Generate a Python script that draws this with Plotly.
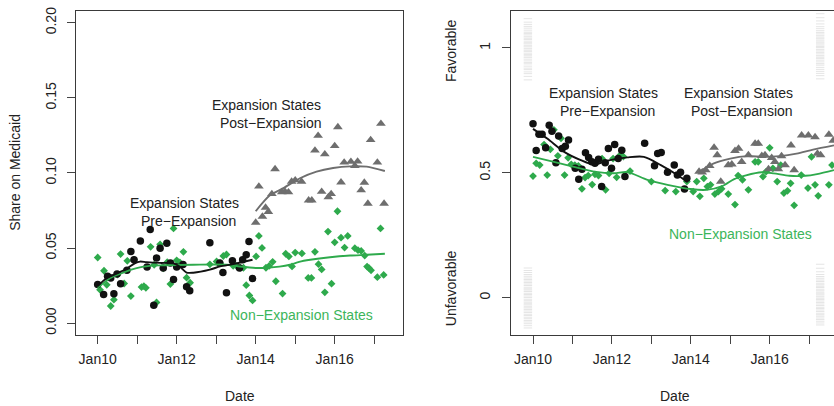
import plotly.graph_objects as go

# ---------------- Left panel: Share on Medicaid ----------------
pre_x = [2010.00, 2010.15, 2010.25, 2010.33, 2010.41, 2010.49, 2010.58, 2010.74, 2010.84, 2010.92,
         2011.08, 2011.25, 2011.33, 2011.42, 2011.49, 2011.58, 2011.66, 2011.75, 2011.84, 2011.92,
         2012.00, 2012.16, 2012.25, 2012.33, 2012.84, 2013.09, 2013.17, 2013.26, 2013.41, 2013.59,
         2013.67, 2013.76, 2013.83, 2013.92]
pre_y = [0.0257, 0.0191, 0.0312, 0.0301, 0.0196, 0.0327, 0.0262, 0.0352, 0.0477, 0.0422,
         0.0547, 0.0374, 0.0624, 0.0119, 0.0433, 0.0499, 0.0367, 0.0532, 0.0400, 0.0290,
         0.0374, 0.0390, 0.0242, 0.0215, 0.0536, 0.0400, 0.0338, 0.0202, 0.0415, 0.0367,
         0.0422, 0.0455, 0.0543, 0.0297]

post_x = [2014.00, 2014.08, 2014.17, 2014.25, 2014.32, 2014.41, 2014.49, 2014.66, 2014.74, 2014.83,
          2014.91, 2015.00, 2015.16, 2015.34, 2015.42, 2015.50, 2015.58, 2015.67, 2015.75, 2015.84,
          2015.91, 2016.00, 2016.08, 2016.16, 2016.24, 2016.41, 2016.51, 2016.58, 2016.67, 2016.75,
          2016.84, 2016.91, 2017.08, 2017.17, 2017.25]
post_y = [0.0670, 0.0910, 0.0710, 0.0770, 0.0741, 0.0860, 0.1026, 0.0873, 0.0877, 0.0872,
          0.0943, 0.0952, 0.0943, 0.0818, 0.0818, 0.1150, 0.1248, 0.0875, 0.1125, 0.0840,
          0.0860, 0.1180, 0.1306, 0.0938, 0.1070, 0.1075, 0.1048, 0.1077, 0.0885, 0.0936,
          0.0796, 0.1220, 0.1070, 0.1328, 0.0796]

non_x = [2010.00, 2010.06, 2010.16, 2010.23, 2010.33, 2010.41, 2010.50, 2010.58, 2010.67, 2010.75,
         2010.84, 2010.92, 2011.11, 2011.17, 2011.22, 2011.34, 2011.43, 2011.49, 2011.58, 2011.66,
         2011.76, 2011.84, 2011.92, 2012.00, 2012.08, 2012.17, 2012.25, 2012.34, 2012.84, 2013.01,
         2013.10, 2013.18, 2013.26, 2013.43, 2013.51, 2013.61, 2013.69, 2013.76, 2013.84, 2013.92,
         2014.01, 2014.08, 2014.16, 2014.26, 2014.34, 2014.43, 2014.51, 2014.68, 2014.76, 2014.84,
         2014.92, 2015.00, 2015.17, 2015.33, 2015.41, 2015.50, 2015.59, 2015.67, 2015.75, 2015.83,
         2015.92, 2016.00, 2016.07, 2016.16, 2016.25, 2016.33, 2016.51, 2016.59, 2016.67, 2016.76,
         2016.82, 2016.87, 2016.92, 2017.08, 2017.16, 2017.24]
non_y = [0.0437, 0.0222, 0.0349, 0.0255, 0.0114, 0.0156, 0.0323, 0.0460, 0.0264, 0.0415,
         0.0180, 0.0422, 0.0240, 0.0246, 0.0235, 0.0508, 0.0389, 0.0138, 0.0525, 0.0365,
         0.0406, 0.0260, 0.0631, 0.0418, 0.0405, 0.0475, 0.0303, 0.0269, 0.0392, 0.0411,
         0.0400, 0.0447, 0.0457, 0.0382, 0.0382, 0.0369, 0.0369, 0.0253, 0.0184, 0.0151,
         0.0444, 0.0581, 0.0501, 0.0369, 0.0381, 0.0408, 0.0279, 0.0197, 0.0462, 0.0444,
         0.0378, 0.0470, 0.0464, 0.0301, 0.0301, 0.0475, 0.0393, 0.0358, 0.0205, 0.0610,
         0.0263, 0.0538, 0.0745, 0.0569, 0.0503, 0.0581, 0.0499, 0.0486, 0.0481, 0.0450,
         0.0377, 0.0366, 0.0352, 0.0306, 0.0631, 0.0321]

# smoothed trend lines
pre_fit_x = [2010.00, 2010.23, 2010.48, 2010.73, 2010.95, 2011.07, 2011.24, 2011.58, 2011.92, 2012.08,
             2012.25, 2012.42, 2012.84, 2013.10, 2013.43, 2013.92]
pre_fit_y = [0.0246, 0.0301, 0.0330, 0.0362, 0.0400, 0.0410, 0.0406, 0.0401, 0.0399, 0.0375,
             0.0337, 0.0336, 0.0356, 0.0378, 0.0393, 0.0422]
post_fit_x = [2014.00, 2014.36, 2014.70, 2015.12, 2015.54, 2015.96, 2016.39, 2016.81, 2017.27]
post_fit_y = [0.0745, 0.0851, 0.0899, 0.0965, 0.1009, 0.1033, 0.1044, 0.1042, 0.1013]
non_fit_x = [2010.00, 2010.31, 2010.73, 2011.16, 2011.58, 2012.42, 2013.27, 2013.60, 2014.00, 2014.30,
             2014.60, 2014.87, 2015.10, 2015.38, 2015.88, 2016.39, 2016.81, 2017.27]
non_fit_y = [0.0235, 0.0299, 0.0345, 0.0376, 0.0385, 0.0389, 0.0389, 0.0377, 0.0367, 0.0369,
             0.0376, 0.0389, 0.0408, 0.0422, 0.0439, 0.0450, 0.0455, 0.0462]

# ---------------- Right panel: Favorable / Unfavorable ----------------
rpre_x = [2010.00, 2010.08, 2010.15, 2010.23, 2010.32, 2010.41, 2010.48, 2010.58, 2010.65, 2010.74,
          2010.82, 2010.90, 2011.07, 2011.16, 2011.24, 2011.33, 2011.41, 2011.49, 2011.57, 2011.66,
          2011.74, 2011.83, 2011.91, 2011.99, 2012.07, 2012.16, 2012.25, 2012.33, 2012.83, 2013.08,
          2013.16, 2013.25, 2013.41, 2013.58, 2013.66, 2013.74, 2013.84, 2013.90]
rpre_y = [0.696, 0.589, 0.654, 0.654, 0.600, 0.690, 0.666, 0.540, 0.647, 0.597,
          0.606, 0.631, 0.518, 0.474, 0.514, 0.580, 0.561, 0.544, 0.538, 0.554,
          0.445, 0.540, 0.597, 0.518, 0.613, 0.557, 0.590, 0.485, 0.618, 0.528,
          0.577, 0.581, 0.502, 0.531, 0.491, 0.502, 0.435, 0.478]

rpost_x = [2014.21, 2014.29, 2014.38, 2014.48, 2014.59, 2014.67, 2014.76, 2014.95, 2015.04, 2015.12,
           2015.21, 2015.29, 2015.46, 2015.63, 2015.71, 2015.80, 2015.88, 2015.97, 2016.05, 2016.13,
           2016.22, 2016.30, 2016.39, 2016.54, 2016.62, 2016.81, 2016.98, 2017.15, 2017.21, 2017.29,
           2017.50, 2017.61]
rpost_y = [0.505, 0.502, 0.511, 0.528, 0.601, 0.571, 0.465, 0.531, 0.534, 0.588,
           0.597, 0.544, 0.571, 0.617, 0.617, 0.568, 0.571, 0.515, 0.560, 0.544,
           0.515, 0.567, 0.531, 0.610, 0.511, 0.650, 0.650, 0.643, 0.577, 0.571,
           0.653, 0.629]

rnon_x = [2010.00, 2010.08, 2010.17, 2010.28, 2010.36, 2010.44, 2010.53, 2010.63, 2010.71, 2010.80,
          2010.89, 2010.97, 2011.06, 2011.15, 2011.24, 2011.32, 2011.40, 2011.50, 2011.57, 2011.66,
          2011.75, 2011.84, 2011.93, 2012.03, 2012.12, 2012.21, 2012.29, 2012.46, 2013.00, 2013.35,
          2013.62, 2013.90, 2014.06, 2014.15, 2014.23, 2014.33, 2014.42, 2014.50, 2014.61, 2014.70,
          2014.78, 2014.95, 2015.12, 2015.20, 2015.31, 2015.46, 2015.63, 2015.71, 2015.83, 2015.91,
          2016.00, 2016.08, 2016.19, 2016.28, 2016.36, 2016.45, 2016.53, 2016.62, 2016.80, 2016.97,
          2017.06, 2017.15, 2017.23, 2017.50, 2017.58]
rnon_y = [0.487, 0.538, 0.531, 0.613, 0.491, 0.594, 0.672, 0.568, 0.638, 0.491,
          0.560, 0.534, 0.531, 0.528, 0.436, 0.481, 0.489, 0.453, 0.494, 0.489,
          0.557, 0.432, 0.498, 0.557, 0.482, 0.571, 0.565, 0.507, 0.465, 0.429,
          0.425, 0.465, 0.425, 0.465, 0.406, 0.478, 0.445, 0.452, 0.415, 0.425,
          0.436, 0.415, 0.373, 0.489, 0.472, 0.432, 0.544, 0.544, 0.485, 0.505,
          0.600, 0.518, 0.465, 0.531, 0.419, 0.428, 0.458, 0.370, 0.491, 0.439,
          0.564, 0.452, 0.408, 0.452, 0.531]

rpre_fit_x = [2010.00, 2010.36, 2010.79, 2011.21, 2011.55, 2011.89, 2012.40, 2012.81, 2013.24, 2013.66, 2013.92]
rpre_fit_y = [0.676, 0.637, 0.584, 0.551, 0.533, 0.549, 0.562, 0.564, 0.531, 0.491, 0.462]
rpost_fit_x = [2014.23, 2014.57, 2015.00, 2015.42, 2015.84, 2016.26, 2016.68, 2017.10, 2017.63]
rpost_fit_y = [0.505, 0.537, 0.557, 0.567, 0.564, 0.567, 0.577, 0.593, 0.610]
rnon_fit_x = [2010.00, 2010.53, 2011.04, 2011.55, 2012.05, 2012.39, 2012.90, 2013.41, 2014.00, 2014.40,
              2014.80, 2015.10, 2015.40, 2015.80, 2016.10, 2016.50, 2016.90, 2017.20, 2017.63]
rnon_fit_y = [0.564, 0.544, 0.524, 0.505, 0.498, 0.503, 0.472, 0.452, 0.435, 0.432,
              0.447, 0.475, 0.490, 0.502, 0.498, 0.488, 0.488, 0.495, 0.511]

# raw (jittered) responses at the first and last survey waves
rug_first_x = 2009.87
rug_last_x = 2017.28
rug_first_fav = [0.872, 0.886, 0.897, 0.904, 0.913, 0.919, 0.927, 0.936, 0.941, 0.948, 0.955, 0.962,
                 0.968, 0.973, 0.979, 0.986, 0.991, 0.997, 1.004, 1.009, 1.016, 1.021, 1.027, 1.034,
                 1.039, 1.045, 1.052, 1.058, 1.063, 1.071, 1.079, 1.086, 1.094, 1.103, 1.117]
rug_first_unf = [-0.121, -0.112, -0.104, -0.097, -0.091, -0.084, -0.078, -0.071, -0.066, -0.059,
                 -0.053, -0.047, -0.041, -0.036, -0.029, -0.024, -0.018, -0.012, -0.006, 0.001,
                 0.007, 0.013, 0.018, 0.025, 0.031, 0.036, 0.042, 0.049, 0.055, 0.061, 0.067,
                 0.073, 0.079, 0.086, 0.093, 0.101, 0.109, 0.119]
rug_last_fav = [0.876, 0.889, 0.898, 0.906, 0.914, 0.922, 0.931, 0.937, 0.944, 0.951, 0.958, 0.963,
                0.969, 0.976, 0.982, 0.988, 0.994, 1.001, 1.006, 1.012, 1.019, 1.024, 1.031, 1.037,
                1.043, 1.049, 1.056, 1.062, 1.069, 1.077, 1.085, 1.096, 1.108, 1.121, 1.137]
rug_last_unf = [-0.109, -0.101, -0.094, -0.087, -0.081, -0.074, -0.068, -0.062, -0.055, -0.049,
                -0.043, -0.038, -0.031, -0.025, -0.019, -0.013, -0.007, -0.002, 0.004, 0.011,
                0.016, 0.022, 0.028, 0.034, 0.041, 0.046, 0.052, 0.058, 0.065, 0.071, 0.078,
                0.085, 0.093, 0.104, 0.118, 0.134]

year_ticks = [2010, 2011, 2012, 2013, 2014, 2015, 2016, 2017]
year_labels = ["Jan10", "", "Jan12", "", "Jan14", "", "Jan16", ""]
share_ticks = [0.0, 0.05, 0.10, 0.15, 0.20]
share_labels = ["0.00", "0.05", "0.10", "0.15", "0.20"]
fav_ticks = [0, 0.5, 1]
fav_labels = ["0", "0.5", "1"]

BLACK = "#111111"
GREY = "#6e6e6e"
GREEN = "#2eaa4c"
GREEN_TXT = "#3cb55a"
FONT = "Liberation Sans, Arial, Helvetica, sans-serif"
W, H = 834, 406

fig = go.Figure()

def pts(x, y, symbol, color, size, xa, ya):
    fig.add_trace(go.Scatter(x=x, y=y, mode="markers", xaxis=xa, yaxis=ya, showlegend=False,
                             marker=dict(symbol=symbol, color=color, size=size, line=dict(width=0))))

def line(x, y, color, xa, ya):
    fig.add_trace(go.Scatter(x=x, y=y, mode="lines", xaxis=xa, yaxis=ya, showlegend=False,
                             line=dict(color=color, width=1.9, shape="spline", smoothing=0.8)))

# left panel
pts(non_x, non_y, "diamond", GREEN, 6, "x", "y")
pts(pre_x, pre_y, "circle", BLACK, 7.5, "x", "y")
pts(post_x, post_y, "triangle-up", GREY, 8.5, "x", "y")
line(non_fit_x, non_fit_y, GREEN, "x", "y")
line(pre_fit_x, pre_fit_y, BLACK, "x", "y")
line(post_fit_x, post_fit_y, GREY, "x", "y")

# right panel rugs
for rx, vals in [(rug_first_x, rug_first_fav), (rug_first_x, rug_first_unf),
                 (rug_last_x, rug_last_fav), (rug_last_x, rug_last_unf)]:
    fig.add_trace(go.Scatter(x=[rx] * len(vals), y=vals, mode="markers", xaxis="x2", yaxis="y2",
                             showlegend=False,
                             marker=dict(symbol="line-ew", size=6,
                                         line=dict(width=1, color="rgba(170,170,170,0.3)"))))

pts(rnon_x, rnon_y, "diamond", GREEN, 6, "x2", "y2")
pts(rpre_x, rpre_y, "circle", BLACK, 7.5, "x2", "y2")
pts(rpost_x, rpost_y, "triangle-up", GREY, 8.5, "x2", "y2")
line(rnon_fit_x, rnon_fit_y, GREEN, "x2", "y2")
line(rpre_fit_x, rpre_fit_y, BLACK, "x2", "y2")
line(rpost_fit_x, rpost_fit_y, GREY, "x2", "y2")

ax_common = dict(showgrid=False, zeroline=False, showline=True, linecolor="#3a3a3a", linewidth=1.4,
                 ticks="outside", ticklen=8, tickwidth=1, tickcolor="#444444",
                 tickfont=dict(size=14, color="#222222", family=FONT))

ydom = [1 - 334 / H, 1 - 7 / H]
fig.update_layout(
    width=W, height=H, margin=dict(l=0, r=0, t=0, b=0),
    paper_bgcolor="white", plot_bgcolor="white",
    font=dict(family=FONT, size=14, color="#222222"),
    xaxis=dict(domain=[76 / W, 403 / W], range=[2009.451, 2017.729], anchor="y",
               tickvals=year_ticks, ticktext=year_labels, mirror=True, ticklabelstandoff=3, **ax_common),
    yaxis=dict(domain=ydom, range=[-0.0077, 0.2079], anchor="x",
               tickvals=share_ticks, ticktext=share_labels, tickangle=-90, mirror=True,
               ticklabelstandoff=5, **ax_common),
    xaxis2=dict(domain=[511 / W, 1.0], range=[2009.442, 2017.63], anchor="y2",
                tickvals=year_ticks, ticktext=year_labels, mirror=True, ticklabelstandoff=3, **ax_common),
    yaxis2=dict(domain=ydom, range=[-0.148, 1.148], anchor="x2",
                tickvals=fav_ticks, ticktext=fav_labels, tickangle=-90, mirror=False,
                ticklabelstandoff=6, **ax_common),
)

ann = []
def txt(x, y, s, xref, yref, color="#222222", angle=0):
    ann.append(dict(x=x, y=y, xref=xref, yref=yref, text=s, showarrow=False, textangle=angle,
                    xanchor="center", yanchor="middle",
                    font=dict(size=14, color=color, family=FONT)))

# in-plot labels
txt(2014.28, 0.1451, "Expansion States", "x", "y")
txt(2014.38, 0.1334, "Post\u2212Expansion", "x", "y")
txt(2012.20, 0.0798, "Expansion States", "x", "y")
txt(2012.30, 0.0681, "Pre\u2212Expansion", "x", "y")
txt(2015.16, 0.0053, "Non\u2212Expansion States", "x", "y", GREEN_TXT)
txt(2011.78, 0.819, "Expansion States", "x2", "y2")
txt(2011.88, 0.749, "Pre\u2212Expansion", "x2", "y2")
txt(2015.21, 0.819, "Expansion States", "x2", "y2")
txt(2015.31, 0.749, "Post\u2212Expansion", "x2", "y2")
txt(2015.26, 0.254, "Non\u2212Expansion States", "x2", "y2", GREEN_TXT)

# axis titles
txt(239.5 / W, 1 - 396 / H, "Date", "paper", "paper")
txt(674.5 / W, 1 - 396 / H, "Date", "paper", "paper")
txt(15 / W, 1 - 170.5 / H, "Share on Medicaid", "paper", "paper", angle=-90)
txt(451 / W, 1 - 47.5 / H, "Favorable", "paper", "paper", angle=-90)
txt(451 / W, 1 - 287 / H, "Unfavorable", "paper", "paper", angle=-90)

fig.update_layout(annotations=ann)
fig.write_html("out.html", config={"displayModeBar": False},
               post_script="document.body.style.margin='0';document.body.style.overflow='hidden';")
